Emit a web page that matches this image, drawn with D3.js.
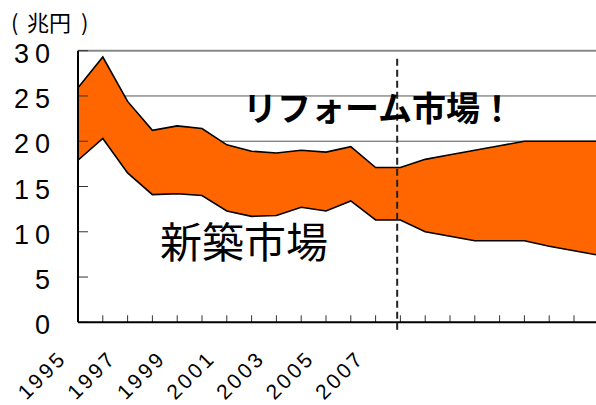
<!DOCTYPE html>
<html><head><meta charset="utf-8">
<script src="https://cdn.jsdelivr.net/npm/d3@7"></script>
<style>body{margin:0;background:#fff}svg{display:block}</style>
</head><body><svg id="c" width="596" height="405"></svg>
<script>
const years = d3.range(1995, 2017);
const newConstruction = [17.9,20.3,16.5,14.1,14.2,14.0,12.3,11.7,11.8,12.7,12.3,13.4,11.3,11.3,10.0,9.5,9.0,9.0,9.0,8.4,7.9,7.4];
const reform = [8.0,9.0,7.9,7.1,7.5,7.4,7.3,7.2,6.9,6.3,6.5,6.0,5.8,5.8,8.0,9.0,10.0,10.5,11.0,11.6,12.1,12.6];
const yTicks = [0,5,10,15,20,25,30];
const xLabelYears = [1995,1997,1999,2001,2003,2005,2007];
const forecastStart = 2007.87;
const unitParts = ["(", "兆円", ")"];
const labelReform = "リフォーム市場！";
const labelNew = "新築市場";

const svg = d3.select("#c");
const L = 78, B = 322.3, T = 50.7, step = 24.8;
const x = d3.scaleLinear().domain([1995, 2016]).range([L, L + 21 * step]);
const y = d3.scaleLinear().domain([0, 30]).range([B, T]);

const data = years.map((yr, i) => ({yr, n: newConstruction[i], t: newConstruction[i] + reform[i]}));

svg.append("defs").append("clipPath").attr("id","clip")
  .append("rect").attr("x", L).attr("y", 0).attr("width", 596 - L).attr("height", 405);

const g = svg.append("g").attr("clip-path","url(#clip)");

// gridlines
g.selectAll("line.grid").data(yTicks.filter(v => v > 0)).join("line")
  .attr("x1", L).attr("x2", 600).attr("y1", d => y(d)).attr("y2", d => y(d))
  .attr("stroke", d => d === 30 ? "#888" : "#555").attr("stroke-width", d => d === 30 ? 2 : 1);

// areas
const areaTop = d3.area().x(d => x(d.yr)).y0(d => y(d.n)).y1(d => y(d.t));
const areaBottom = d3.area().x(d => x(d.yr)).y0(y(0)).y1(d => y(d.n));
g.append("path").datum(data).attr("d", areaBottom).attr("fill", "#fff");
g.append("path").datum(data).attr("d", areaTop).attr("fill", "#FF6600");
g.append("path").datum(data).attr("d", d3.line().x(d => x(d.yr)).y(d => y(d.t)))
  .attr("fill","none").attr("stroke","#000").attr("stroke-width",1.6);
g.append("path").datum(data).attr("d", d3.line().x(d => x(d.yr)).y(d => y(d.n)))
  .attr("fill","none").attr("stroke","#000").attr("stroke-width",1.6);

// x ticks (inward)
g.selectAll("line.xt").data(years).join("line")
  .attr("x1", d => x(d)).attr("x2", d => x(d)).attr("y1", B).attr("y2", B - 7)
  .attr("stroke", "#333").attr("stroke-width", 1);

// y ticks (inward)
svg.selectAll("line.yt").data(yTicks).join("line")
  .attr("x1", L).attr("x2", L + 10).attr("y1", d => y(d)).attr("y2", d => y(d))
  .attr("stroke", "#333").attr("stroke-width", 1);

// axes lines
svg.append("line").attr("x1", L).attr("x2", L).attr("y1", T).attr("y2", B).attr("stroke","#000").attr("stroke-width",2);
svg.append("line").attr("x1", L).attr("x2", 596).attr("y1", B).attr("y2", B).attr("stroke","#000").attr("stroke-width",2);

// dashed forecast line
svg.append("line").attr("x1", x(forecastStart)).attr("x2", x(forecastStart))
  .attr("y1", T + 8).attr("y2", B + 8)
  .attr("stroke","#222").attr("stroke-width",2).attr("stroke-dasharray","7,4");

// y labels
svg.selectAll("text.yl").data(yTicks).join("text")
  .attr("x", 56).attr("y", d => y(d) + 3)
  .attr("text-anchor","end").attr("dominant-baseline","central")
  .attr("font-family","Liberation Sans, Arial, sans-serif").attr("font-size", 27)
  .attr("letter-spacing", 6).attr("fill","#000")
  .text(d => d);

// x labels
svg.selectAll("text.xl").data(xLabelYears).join("text")
  .attr("transform", d => `translate(${x(d) - 10},${B + 37}) rotate(-45)`)
  .attr("text-anchor","end")
  .attr("font-family","Liberation Sans, Arial, sans-serif").attr("font-size", 21)
  .attr("letter-spacing", 3).attr("fill","#000")
  .text(d => d);

// unit label
const ut = svg.append("text").attr("y", 31)
  .attr("font-family","Noto Sans CJK JP, sans-serif").attr("font-size", 22).attr("fill","#000");
ut.selectAll("tspan").data(unitParts).join("tspan")
  .attr("x", (d, i) => [11, 27, 81][i]).text(d => d);

svg.append("text").attr("x", 243).attr("y", 121)
  .attr("font-family","Noto Sans CJK JP, sans-serif").attr("font-size", 34).attr("font-weight","bold")
  .attr("fill","#000").text(labelReform);

svg.append("text").attr("x", 160).attr("y", 258)
  .attr("font-family","Noto Sans CJK JP, sans-serif").attr("font-size", 42)
  .attr("fill","#000").text(labelNew);
</script></body></html>
